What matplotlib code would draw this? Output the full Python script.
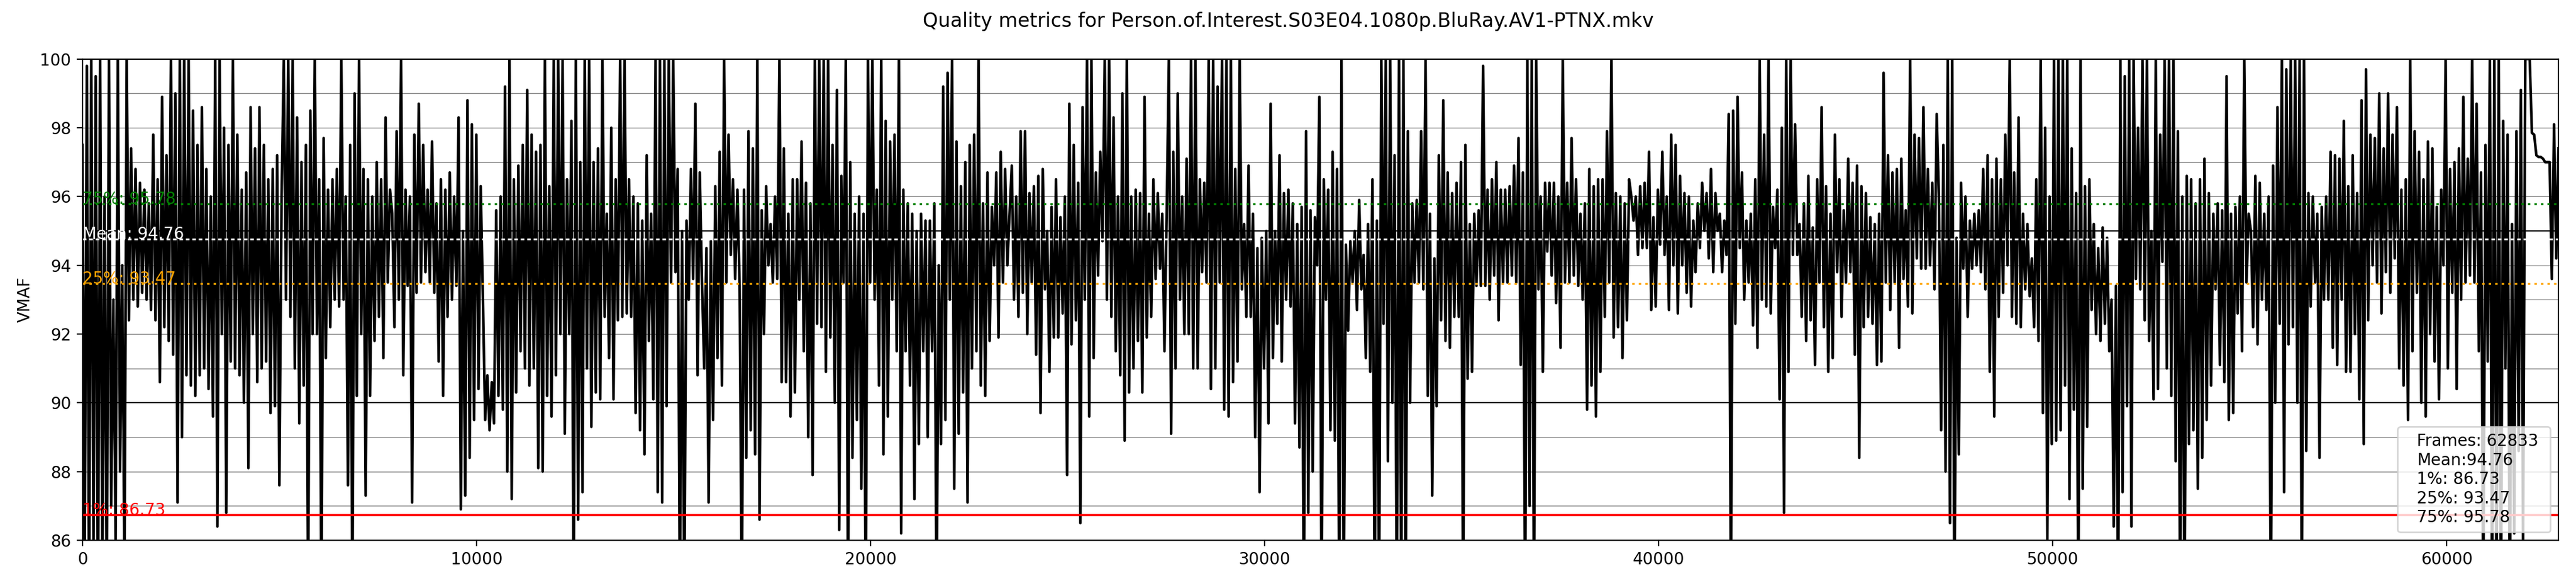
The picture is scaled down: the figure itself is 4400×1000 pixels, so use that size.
import numpy as np
import matplotlib
matplotlib.use("Agg")
import matplotlib.pyplot as plt

title = "Quality metrics for Person.of.Interest.S03E04.1080p.BluRay.AV1-PTNX.mkv"
frames_total = 62833
mean_v = 94.76
perc_1 = 86.73
perc_25 = 93.47
perc_75 = 95.78

# VMAF turning points, left to right (8 strips of ~7850 frames)
vmaf_s1 = [
    97.5, 85, 99.8, 84, 100, 86, 99.5, 83, 100, 85, 96, 84, 100, 87,
    93, 86, 100, 88, 94, 85, 100, 92.4, 97.4, 93, 96.8, 92.8, 96.4, 93.2,
    96.2, 93, 95.8, 92.7, 97.8, 92.4, 96.5, 90.6, 98.9, 92.2, 97.2, 91.8, 100, 91.4,
    99, 87.1, 100, 89, 100, 90.8, 100, 90.5, 98.5, 90.2, 97.5, 90.8, 98.6, 91,
    96.8, 90.4, 96, 89.6, 100, 86.4, 100, 92, 98, 86.8, 97.5, 91.2, 100, 91,
    97.8, 90.8, 96.2, 90, 96.7, 88.1, 98.6, 92, 97.4, 90.6, 98.6, 91, 97.5, 91.2,
    96.5, 89.7, 96.8, 89.9, 97.2, 87.6, 96, 100, 93, 100, 92.5, 100, 91, 98.3,
    89.4, 97, 90.5, 97.5, 84, 98.5, 92, 100, 92, 96.5, 84, 97.7, 91.3, 96.2,
    92.2, 96.5, 93, 96.8, 92.8, 100, 93, 96, 87.6, 97.5, 84, 99, 90.2, 100,
    92, 96.8, 87.3, 96.5, 90.2, 96, 91.8, 97, 92.5, 96.5, 91.3, 98.3, 93.5, 96.2,
]
vmaf_s2 = [
    95.5, 92.2, 97.9, 93, 100, 90.8, 96.2, 93.4, 96, 87.1, 97.8, 93.2, 98.7, 93.5,
    97.5, 93.8, 96.2, 93.5, 97.6, 93.2, 95.8, 91.2, 96.5, 90.2, 96.2, 92.5, 96.7, 93,
    96, 93.4, 98.3, 86.9, 95, 87.3, 98.8, 88.4, 98.1, 89.5, 97.8, 90.4, 96.3, 93,
    89.5, 90.8, 89.2, 90.6, 89.4, 95.6, 90.2, 96, 89.8, 99.2, 88, 100, 87.2, 96.5,
    90.3, 96.9, 91.5, 97.5, 91, 99.1, 90.5, 97.8, 91, 97.3, 88.1, 97.5, 88, 100,
    90.2, 96.3, 89.6, 100, 90.8, 100, 92, 100, 89.1, 96.5, 92, 98.2, 84, 100,
    86.6, 97, 87.4, 100, 91, 100, 89.3, 97, 90.3, 97.4, 90.1, 100, 92.5, 95.5,
    91.3, 98, 90.1, 96.5, 92.4, 100, 92.5, 100, 92.6, 96.5, 92.5, 96, 89.7, 95.8,
    89.2, 95.3, 88.5, 97.2, 91.8, 95.5, 90.1, 100, 87.4, 100, 87.1, 100, 89.9, 100,
    93.5, 100, 93.8, 96.8, 84, 95, 84, 95.3, 93, 96.8, 93.6, 98.7, 90.8, 96.7,
]
vmaf_s3 = [
    93.5, 91, 94.5, 87.1, 94.7, 89.5, 96.3, 91.3, 97.3, 90.5, 100, 93.5, 97.8, 94.3,
    96.5, 93.6, 96.2, 93.4, 84, 96.2, 88.4, 97.9, 89.2, 97.4, 88.5, 100, 86.6, 95.6,
    92, 96.3, 94, 95.2, 93.5, 96, 93.6, 100, 90.6, 97.4, 90.6, 95.5, 89.6, 96.5,
    90.3, 96.5, 93, 97.6, 91.5, 96.4, 89, 95.8, 87.9, 100, 92.3, 100, 92.2, 100,
    90.9, 100, 91.9, 97.5, 90, 99.1, 86.3, 96.6, 93.5, 100, 84, 97, 88.4, 95.5,
    89.5, 96, 87.5, 95.5, 84, 100, 93.5, 100, 93, 96.2, 90.5, 100, 88.5, 98.2,
    89.6, 97.6, 93, 97.8, 91.5, 100, 86.2, 96.2, 91.5, 95.8, 90.5, 95.5, 87.2, 95,
    88.8, 95.5, 91.5, 95.3, 89, 95.3, 91.5, 95.8, 84, 94, 88.8, 99.2, 89.5, 99.6,
    93, 100, 87.5, 97.6, 89.1, 96.3, 90.3, 97, 87.1, 97.5, 91, 97.8, 91.5, 100,
    90.5, 95.8, 90.2, 96.7, 91.8, 95.7, 94, 96.7, 91.9, 97.3, 93.5, 96.8, 94, 95.5,
]
vmaf_s4 = [
    96.9, 93, 96, 92.5, 97.9, 93.2, 97.9, 92, 96.1, 93.5, 96.3, 91.4, 96.6, 89.7,
    96.8, 93.3, 95, 90.9, 95.7, 91.9, 96.5, 91.9, 95.4, 92.6, 96, 87.9, 98.7, 91.7,
    97.5, 92.4, 96.4, 86.5, 98.6, 93, 100, 89.6, 100, 91.3, 96.7, 93.7, 97.3, 94.7,
    100, 93, 100, 92.5, 98.3, 91.5, 96, 90.8, 99, 88.9, 100, 90.3, 96, 91,
    96.2, 91.8, 96.1, 90.3, 98.9, 91.9, 95.5, 92.5, 96.5, 93.6, 96.1, 93.9, 95.5, 91.5,
    95.5, 100, 89.1, 97.3, 91, 99, 93, 96, 92, 97.1, 92, 100, 91, 100,
    91, 96.5, 93.8, 96.4, 93.5, 100, 90.4, 100, 91, 99.2, 93.5, 100, 89.8, 100,
    89.6, 100, 90.6, 96.8, 91.2, 100, 93.3, 95.2, 92.5, 96.9, 92.5, 95.5, 89, 94.5,
    87.4, 94.8, 91, 95, 89.4, 98.7, 91.3, 95, 92.3, 97.2, 91.2, 96.1, 93, 96.2,
    92.8, 95.8, 89.4, 95.2, 88.7, 95.7, 84, 97.9, 86.8, 95.6, 88, 95.4, 94, 98.9,
]
vmaf_s5 = [
    84, 96.5, 93, 96.2, 89.2, 97.3, 88.9, 96.8, 84, 100, 84, 94.6, 92.1, 94.7,
    93.5, 95, 92.7, 95.9, 93.3, 94.3, 91.3, 95.2, 90.9, 96.5, 84, 95.3, 84, 100,
    92.3, 100, 88.3, 100, 90, 97.2, 84, 100, 84, 100, 84, 97.9, 90, 95.8,
    93.5, 95.9, 93.5, 97.9, 93.3, 100, 90.2, 95.5, 87.3, 94.2, 89.9, 97.2, 92.4, 98.8,
    91.8, 96.7, 91.6, 96.1, 92.5, 96.4, 92.5, 97, 84, 97.5, 90.7, 95.2, 90.9, 95.5,
    93.4, 95.6, 93.4, 99.8, 93.4, 96.2, 93, 96.5, 93.7, 97, 92.4, 96.2, 93.5, 96.2,
    93.5, 96.3, 93.7, 96.9, 93.5, 97.7, 91.1, 96.7, 84, 100, 87, 100, 84, 100,
    93.3, 96, 90.9, 96.4, 94.4, 96.4, 93.7, 96.4, 92.9, 96, 91.6, 100, 93.5, 96.4,
    93.5, 97.7, 93.7, 96.5, 93.4, 95.5, 93, 95.8, 89.8, 96.8, 90.5, 96.3, 89.6, 96.5,
    90.9, 96.5, 92.5, 97.9, 93.5, 100, 91.9, 96.1, 92.2, 96, 91.3, 95.8, 92.4, 96.5,
]
vmaf_s6 = [
    96, 95.3, 96, 94.3, 96.3, 94.5, 96.4, 94.5, 97.3, 92.7, 95.4, 92.8, 96.2, 94.6,
    97.3, 94.3, 96, 92.7, 97.8, 94, 97.5, 92.6, 96.6, 94, 96.1, 93.2, 96, 92.8,
    95.3, 93.8, 95.8, 94.5, 96.4, 95, 96.1, 94.2, 96.8, 93.8, 96.1, 95, 95.5, 93.8,
    95.3, 94.3, 98.4, 84, 98.5, 92.3, 98.9, 94.5, 96.7, 93, 95.3, 93.5, 95.5, 92.25,
    96.5, 91.6, 100, 93, 97.8, 92.8, 100, 92.6, 95.7, 94.5, 96.2, 90.1, 98, 86.8,
    100, 90.9, 100, 94.3, 98.1, 94.3, 95.2, 92.5, 95.8, 91.8, 96.6, 92.4, 95.1, 91.1,
    96.5, 93.5, 98.6, 92.2, 96.3, 90.9, 95.5, 91.3, 97.8, 93.8, 96.5, 92.5, 95.6, 93.5,
    97.1, 93.8, 96.4, 91.4, 96.9, 88.4, 96.3, 92.2, 96.1, 92.5, 95.4, 92.3, 95.2, 91.1,
    95.5, 91.2, 99.6, 93.5, 97.2, 92.7, 96.7, 93.5, 96.8, 91.6, 97.1, 93.6, 95.6, 92.8,
    100, 92.6, 97.8, 94.2, 97.7, 93.9, 98.6, 93.9, 96.8, 94, 96.4, 93.3, 98.4, 96,
]
vmaf_s7 = [
    89.2, 97.5, 88, 100, 86.5, 100, 84, 94.8, 88.5, 96.4, 93.9, 96, 92.5, 95.3,
    93.9, 95.5, 94, 95.6, 93.8, 96.8, 93.3, 97.2, 90.9, 96.5, 89.6, 97.1, 92.5, 96.5,
    93.2, 97.8, 94, 100, 92.5, 96.7, 92.3, 98.3, 92.2, 95.5, 93.3, 95.2, 93.1, 94.2,
    92.2, 96.5, 91.8, 100, 89.7, 98, 86, 96, 88.8, 100, 88.9, 100, 89.2, 100,
    90.5, 100, 87.2, 97.4, 89.8, 96.1, 84, 100, 87.5, 96.3, 89.3, 96.5, 92.7, 95.2,
    92, 94.5, 91.8, 95.1, 92.3, 94.8, 91.5, 93, 86.4, 93.4, 84, 100, 87.4, 99.5,
    89.9, 100, 86.4, 100, 93.6, 98, 93.3, 100, 92.4, 100, 91.8, 95, 90.1, 100,
    90.4, 97.8, 94.1, 100, 91, 100, 90.2, 100, 88.3, 97.9, 84, 96, 84, 96.6,
    88.8, 96.5, 89.2, 95.8, 87.5, 96.5, 88.4, 97.1, 89.5, 96.1, 90.5, 95.5, 93.3, 95.8,
    91.1, 95.6, 90.6, 99.5, 89.5, 95.5, 89.7, 95.7, 92.6, 96, 91.5, 100, 93.5, 95.5,
]
vmaf_s8 = [
    95, 92.2, 96.6, 91.7, 96.4, 93, 95.5, 92.7, 96, 84, 96.9, 90, 98.6, 92.3,
    100, 87.4, 99.7, 91.7, 100, 92.2, 100, 90, 100, 84, 100, 88.6, 96.1, 92.8,
    96, 93.5, 95.5, 88.4, 95.7, 93, 96, 93, 97.3, 91.6, 97.2, 91.1, 97.1, 93,
    98.2, 90.9, 96.3, 90.9, 97.2, 92, 96.1, 90.1, 98.8, 88.8, 99.7, 92.4, 97.8, 94,
    97.7, 93.5, 99, 92.6, 97.4, 93.8, 99, 93.2, 97.8, 94.2, 98.6, 91, 96.2, 90.5,
    96.5, 89.5, 100, 91.5, 97.9, 93.2, 97.3, 90, 96.5, 89.6, 97.6, 92, 97.4, 91.2,
    95.7, 90.1, 96.2, 94, 100, 91, 96.8, 93.2, 97, 90.4, 97.4, 93, 98.9, 93.5,
    97.1, 93.7, 100, 93.5, 98.7, 91.5, 96.7, 84, 97.5, 91.2, 100, 84, 100, 84,
    100, 84, 98.2, 91, 97.8, 84, 95.2, 86.2, 97.9, 88.6, 99.1, 86, 100, 100,
    100, 97.85, 97.8, 97.2, 97.15, 97.15, 97.1, 97.0, 97.0, 97.0, 93.6, 98.1, 94.2, 97.4,
]

vmaf = np.array(vmaf_s1 + vmaf_s2 + vmaf_s3 + vmaf_s4 + vmaf_s5 + vmaf_s6 + vmaf_s7 + vmaf_s8)
frame_idx = np.linspace(0, frames_total - 1, len(vmaf))

fig = plt.figure(figsize=(22, 5), dpi=200)
ax = fig.add_axes([0.0320, 0.078, 0.9612, 0.8213])

for i in range(80, 100):
    ax.axhline(i, color='grey', linewidth=0.5)
for i in range(80, 100, 5):
    ax.axhline(i, color='black', linewidth=0.7)

label = (f"Frames: {frames_total} \nMean:{mean_v}\n1%: {perc_1} \n"
         f"25%: {perc_25} \n75%: {perc_75}")
ax.plot(frame_idx, vmaf, color='black', linewidth=1.6, label=label)

ax.axhline(perc_1, color='red', linewidth=1.3)
ax.axhline(perc_25, color='orange', linewidth=1.2, linestyle=(0, (1.25, 2.1)))
ax.axhline(mean_v, color='white', linewidth=1.1, linestyle=(0, (2.0, 1.6)))
ax.axhline(perc_75, color='green', linewidth=1.2, linestyle=(0, (1.25, 2.1)))

ax.text(0, perc_1, f"1%: {perc_1}", color='red', fontsize=10)
ax.text(0, perc_25, f"25%: {perc_25}", color='orange', fontsize=10)
ax.text(0, mean_v, f"Mean: {mean_v}", color='white', fontsize=10)
ax.text(0, perc_75, f"75%: {perc_75}", color='green', fontsize=10)

ax.set_xlim(0, frames_total - 1)
ax.set_ylim(86, 100)
ax.set_ylabel('VMAF')
leg = ax.legend(loc='lower right', handlelength=0, fancybox=True)

fig.suptitle(title, fontsize=12)
fig.savefig('out.png', dpi=200)
